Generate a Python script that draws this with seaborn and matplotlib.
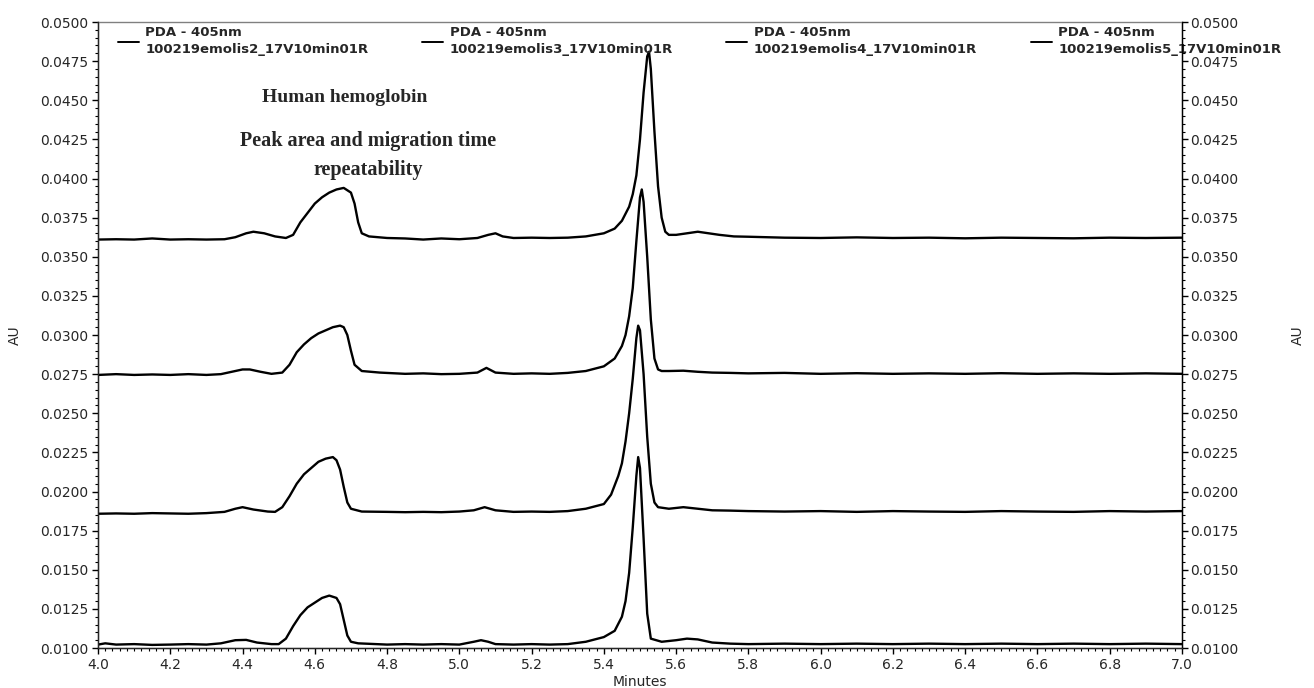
import numpy as np
import pandas as pd
import matplotlib
matplotlib.use("Agg")
import matplotlib.pyplot as plt
import seaborn as sns
from matplotlib.ticker import MultipleLocator, FormatStrFormatter

# --- data (minutes, AU) ---
# run 2 (top trace)
t2_x = [4.00, 4.05, 4.10, 4.15, 4.20, 4.25, 4.30, 4.35, 4.38, 4.41, 4.43, 4.46, 4.49, 4.52,
        4.54, 4.56, 4.58, 4.60, 4.62, 4.64, 4.66, 4.68, 4.70, 4.71, 4.72, 4.73, 4.75, 4.80,
        4.85, 4.90, 4.95, 5.00, 5.05, 5.08, 5.10, 5.12, 5.15, 5.20, 5.25, 5.30, 5.35, 5.40,
        5.43, 5.45, 5.47, 5.48, 5.49, 5.50, 5.51, 5.52, 5.525, 5.53, 5.54, 5.55, 5.56, 5.57,
        5.58, 5.60, 5.63, 5.66, 5.69, 5.72, 5.76, 5.80, 5.90, 6.00, 6.10, 6.20, 6.30, 6.40,
        6.50, 6.60, 6.70, 6.80, 6.90, 7.00]
t2_y = [0.03610, 0.03612, 0.03610, 0.03617, 0.03610, 0.03612, 0.03610, 0.03612, 0.03625, 0.03650,
        0.03660, 0.03650, 0.03630, 0.03620, 0.03640, 0.03720, 0.03780, 0.03840, 0.03880, 0.03910,
        0.03930, 0.03940, 0.03910, 0.03840, 0.03720, 0.03650, 0.03630, 0.03620, 0.03617, 0.03610,
        0.03617, 0.03612, 0.03620, 0.03640, 0.03650, 0.03630, 0.03620, 0.03622, 0.03620, 0.03622,
        0.03630, 0.03650, 0.03680, 0.03730, 0.03820, 0.03900, 0.04020, 0.04250, 0.04550, 0.04780,
        0.04810, 0.04700, 0.04300, 0.03950, 0.03750, 0.03660, 0.03640, 0.03640, 0.03650, 0.03660,
        0.03650, 0.03640, 0.03630, 0.03628, 0.03622, 0.03620, 0.03624, 0.03620, 0.03622, 0.03618,
        0.03622, 0.03620, 0.03618, 0.03622, 0.03620, 0.03622]

# run 3
t3_x = [4.00, 4.05, 4.10, 4.15, 4.20, 4.25, 4.30, 4.34, 4.37, 4.40, 4.42, 4.45, 4.48, 4.51,
        4.53, 4.55, 4.57, 4.59, 4.61, 4.63, 4.65, 4.67, 4.68, 4.69, 4.70, 4.71, 4.73, 4.78,
        4.85, 4.90, 4.95, 5.00, 5.05, 5.075, 5.10, 5.15, 5.20, 5.25, 5.30, 5.35, 5.40, 5.43,
        5.45, 5.46, 5.47, 5.48, 5.49, 5.50, 5.505, 5.51, 5.52, 5.53, 5.54, 5.55, 5.56, 5.58,
        5.62, 5.66, 5.70, 5.75, 5.80, 5.90, 6.00, 6.10, 6.20, 6.30, 6.40, 6.50, 6.60, 6.70,
        6.80, 6.90, 7.00]
t3_y = [0.02745, 0.02750, 0.02745, 0.02748, 0.02745, 0.02750, 0.02745, 0.02750, 0.02765, 0.02780,
        0.02780, 0.02765, 0.02752, 0.02760, 0.02810, 0.02890, 0.02940, 0.02980, 0.03010, 0.03030,
        0.03050, 0.03060, 0.03050, 0.03000, 0.02900, 0.02810, 0.02770, 0.02760, 0.02752, 0.02755,
        0.02750, 0.02752, 0.02760, 0.02790, 0.02760, 0.02752, 0.02755, 0.02752, 0.02758, 0.02770,
        0.02800, 0.02850, 0.02930, 0.03000, 0.03120, 0.03300, 0.03600, 0.03880, 0.03930, 0.03850,
        0.03500, 0.03100, 0.02850, 0.02780, 0.02770, 0.02770, 0.02772, 0.02765, 0.02760, 0.02758,
        0.02755, 0.02758, 0.02752, 0.02756, 0.02752, 0.02755, 0.02752, 0.02756, 0.02752, 0.02755,
        0.02752, 0.02755, 0.02752]

# run 4
t4_x = [4.00, 4.05, 4.10, 4.15, 4.20, 4.25, 4.30, 4.35, 4.38, 4.40, 4.43, 4.47, 4.49, 4.51,
        4.53, 4.55, 4.57, 4.59, 4.61, 4.63, 4.65, 4.66, 4.67, 4.68, 4.69, 4.70, 4.73, 4.80,
        4.85, 4.90, 4.95, 5.00, 5.04, 5.07, 5.10, 5.15, 5.20, 5.25, 5.30, 5.35, 5.40, 5.42,
        5.44, 5.45, 5.46, 5.47, 5.48, 5.49, 5.495, 5.50, 5.51, 5.52, 5.53, 5.54, 5.55, 5.58,
        5.62, 5.66, 5.70, 5.75, 5.80, 5.90, 6.00, 6.10, 6.20, 6.30, 6.40, 6.50, 6.60, 6.70,
        6.80, 6.90, 7.00]
t4_y = [0.01858, 0.01860, 0.01858, 0.01862, 0.01860, 0.01858, 0.01862, 0.01870, 0.01890, 0.01900,
        0.01885, 0.01872, 0.01870, 0.01900, 0.01970, 0.02050, 0.02110, 0.02150, 0.02190, 0.02210,
        0.02220, 0.02200, 0.02140, 0.02030, 0.01930, 0.01890, 0.01872, 0.01870, 0.01868, 0.01870,
        0.01868, 0.01872, 0.01880, 0.01900, 0.01880, 0.01870, 0.01872, 0.01870, 0.01875, 0.01890,
        0.01920, 0.01980, 0.02100, 0.02180, 0.02320, 0.02500, 0.02720, 0.02980, 0.03060, 0.03030,
        0.02750, 0.02350, 0.02050, 0.01930, 0.01900, 0.01890, 0.01900, 0.01890, 0.01880, 0.01878,
        0.01875, 0.01872, 0.01875, 0.01870, 0.01875, 0.01872, 0.01870, 0.01875, 0.01872, 0.01870,
        0.01875, 0.01872, 0.01875]

# run 5 (bottom trace)
t5_x = [4.00, 4.02, 4.05, 4.10, 4.15, 4.20, 4.25, 4.30, 4.34, 4.38, 4.41, 4.44, 4.48, 4.50,
        4.52, 4.54, 4.56, 4.58, 4.60, 4.62, 4.64, 4.66, 4.67, 4.68, 4.69, 4.70, 4.72, 4.80,
        4.85, 4.90, 4.95, 5.00, 5.04, 5.06, 5.08, 5.10, 5.15, 5.20, 5.25, 5.30, 5.35, 5.40,
        5.43, 5.45, 5.46, 5.47, 5.48, 5.49, 5.495, 5.50, 5.51, 5.52, 5.53, 5.56, 5.60, 5.63,
        5.66, 5.70, 5.75, 5.80, 5.90, 6.00, 6.10, 6.20, 6.30, 6.40, 6.50, 6.60, 6.70, 6.80,
        6.90, 7.00]
t5_y = [0.01022, 0.01030, 0.01022, 0.01025, 0.01020, 0.01022, 0.01025, 0.01022, 0.01030, 0.01050,
        0.01052, 0.01035, 0.01025, 0.01025, 0.01060, 0.01140, 0.01210, 0.01260, 0.01290, 0.01320,
        0.01335, 0.01320, 0.01280, 0.01180, 0.01080, 0.01040, 0.01030, 0.01022, 0.01025, 0.01022,
        0.01025, 0.01022, 0.01040, 0.01050, 0.01040, 0.01025, 0.01022, 0.01025, 0.01022, 0.01025,
        0.01040, 0.01070, 0.01110, 0.01200, 0.01300, 0.01480, 0.01770, 0.02100, 0.02220, 0.02150,
        0.01700, 0.01220, 0.01060, 0.01040, 0.01050, 0.01060, 0.01055, 0.01035, 0.01028, 0.01025,
        0.01028, 0.01025, 0.01028, 0.01025, 0.01028, 0.01025, 0.01028, 0.01025, 0.01028, 0.01025,
        0.01028, 0.01025]

runs = ["100219emolis2_17V10min01R", "100219emolis3_17V10min01R",
        "100219emolis4_17V10min01R", "100219emolis5_17V10min01R"]
traces = [(t2_x, t2_y), (t3_x, t3_y), (t4_x, t4_y), (t5_x, t5_y)]

sns.set_style("ticks")
plt.rcParams['font.family'] = ['DejaVu Sans']

fig = plt.figure(figsize=(13.14, 6.88), dpi=100)
ax = fig.add_axes([0.0746, 0.0581, 0.8249, 0.9099])

for name, (tx, ty) in zip(runs, traces):
    df = pd.DataFrame({'Minutes': tx, 'AU': ty})
    sns.lineplot(data=df, x='Minutes', y='AU', ax=ax, color='black', linewidth=1.7,
                 label='PDA - 405nm\n' + name)

ax.set_xlim(4.0, 7.0)
ax.set_ylim(0.0100, 0.0500)
ax.xaxis.set_major_locator(MultipleLocator(0.2))
ax.xaxis.set_minor_locator(MultipleLocator(0.02))
ax.yaxis.set_major_locator(MultipleLocator(0.0025))
ax.yaxis.set_minor_locator(MultipleLocator(0.0005))
ax.xaxis.set_major_formatter(FormatStrFormatter('%.1f'))
ax.yaxis.set_major_formatter(FormatStrFormatter('%.4f'))
ax.tick_params(which='major', length=4, width=1, labelsize=10, pad=3, color='black')
ax.tick_params(which='minor', length=2.5, width=0.8, color='black')
ax.set_xlabel('Minutes', fontsize=10, labelpad=2)
ax.set_ylabel('AU', fontsize=10, labelpad=13)
for s in ax.spines.values():
    s.set_linewidth(1)
    s.set_color('black')
ax.spines['top'].set_color('#808080')

ax2 = ax.twinx()
ax2.set_ylim(ax.get_ylim())
ax2.yaxis.set_major_locator(MultipleLocator(0.0025))
ax2.yaxis.set_minor_locator(MultipleLocator(0.0005))
ax2.yaxis.set_major_formatter(FormatStrFormatter('%.4f'))
ax2.tick_params(which='major', length=4, width=1, labelsize=10, pad=2, color='black')
ax2.tick_params(which='minor', length=2.5, width=0.8, color='black')
ax2.set_ylabel('AU', fontsize=10, labelpad=38)
ax2.spines['right'].set_color('black')
ax2.spines['top'].set_visible(False)

leg = ax.legend(loc='upper left', bbox_to_anchor=(0.018, 0.993), ncol=4, frameon=False,
                borderaxespad=0, borderpad=0, handlelength=1.6, handletextpad=0.5,
                columnspacing=4.05, labelspacing=0.3, prop={'weight': 'bold', 'size': 9.5})
for h in leg.get_lines():
    h.set_linewidth(1.4)
for t in leg.get_texts():
    t.set_linespacing(1.35)

ax.text(0.228, 0.880, 'Human hemoglobin', transform=ax.transAxes, ha='center', va='center',
        fontsize=14, fontweight='bold', family='Liberation Serif')
ax.text(0.249, 0.786, 'Peak area and migration time\nrepeatability', transform=ax.transAxes,
        ha='center', va='center', fontsize=14.5, fontweight='bold', family='Liberation Serif',
        linespacing=1.6)

fig.savefig('out.png', dpi=100)
